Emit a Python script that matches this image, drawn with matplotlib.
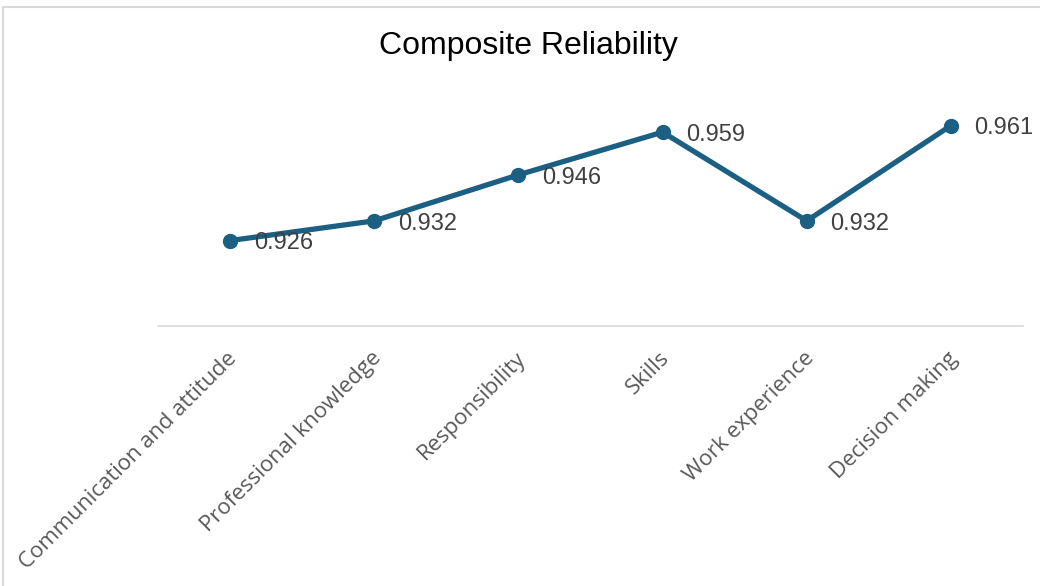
import matplotlib
matplotlib.use("Agg")
import matplotlib.pyplot as plt
from matplotlib.patches import Rectangle
from matplotlib.transforms import ScaledTranslation

categories = ["Communication and attitude", "Professional knowledge",
              "Responsibility", "Skills", "Work experience", "Decision making"]
values = [0.926, 0.932, 0.946, 0.959, 0.932, 0.961]
labels = ["0.926", "0.932", "0.946", "0.959", "0.932", "0.961"]

_LINE, _AXIS, _TICK, _LABEL = "#1b5f83", "#d9d9d9", "#595959", "#404040"

fig = plt.figure(figsize=(10.4, 5.86), dpi=100)
fig.patch.set_facecolor("white")
ax = fig.add_axes([158 / 1040, 1 - 326 / 586, 865 / 1040, 230 / 586])

x = range(len(categories))
ax.plot(x, values, color=_LINE, linewidth=3.8, marker="o", markersize=10,
        solid_capstyle="round")
for i, (v, t) in enumerate(zip(values, labels)):
    ax.annotate(t, (i, v), xytext=(17, -2), textcoords="offset points",
                ha="left", va="center", fontsize=17, color=_LABEL,
                family="Liberation Sans")

ax.set_xlim(-0.5, len(categories) - 0.5)
ax.set_ylim(0.90, 0.97)
ax.set_yticks([])
ax.set_xticks(list(x))
ax.set_xticklabels(categories, rotation=45, ha="right", va="center",
                   rotation_mode="anchor", fontsize=16, color=_TICK,
                   family="Open Sans")
ax.tick_params(axis="x", length=0, pad=21)
shift = ScaledTranslation(4 / 100, 0, fig.dpi_scale_trans)
for lbl in ax.get_xticklabels():
    lbl.set_transform(lbl.get_transform() + shift)
for side, sp in ax.spines.items():
    sp.set_visible(side == "bottom")
    sp.set_color(_AXIS)
    sp.set_linewidth(1.2)

fig.text(528 / 1040, 1 - 46 / 586, "Composite Reliability", ha="center",
         va="center", fontsize=23, color="black", family="Liberation Sans")

# chart-area border (only top and left edges fall inside the image)
fig.patches.append(Rectangle((3 / 1040, -0.1), 1.2, 1 - 7 / 586 + 0.1,
                             transform=fig.transFigure, fill=False,
                             edgecolor=_AXIS, linewidth=1.5))

fig.savefig("out.png", dpi=100, facecolor="white")
